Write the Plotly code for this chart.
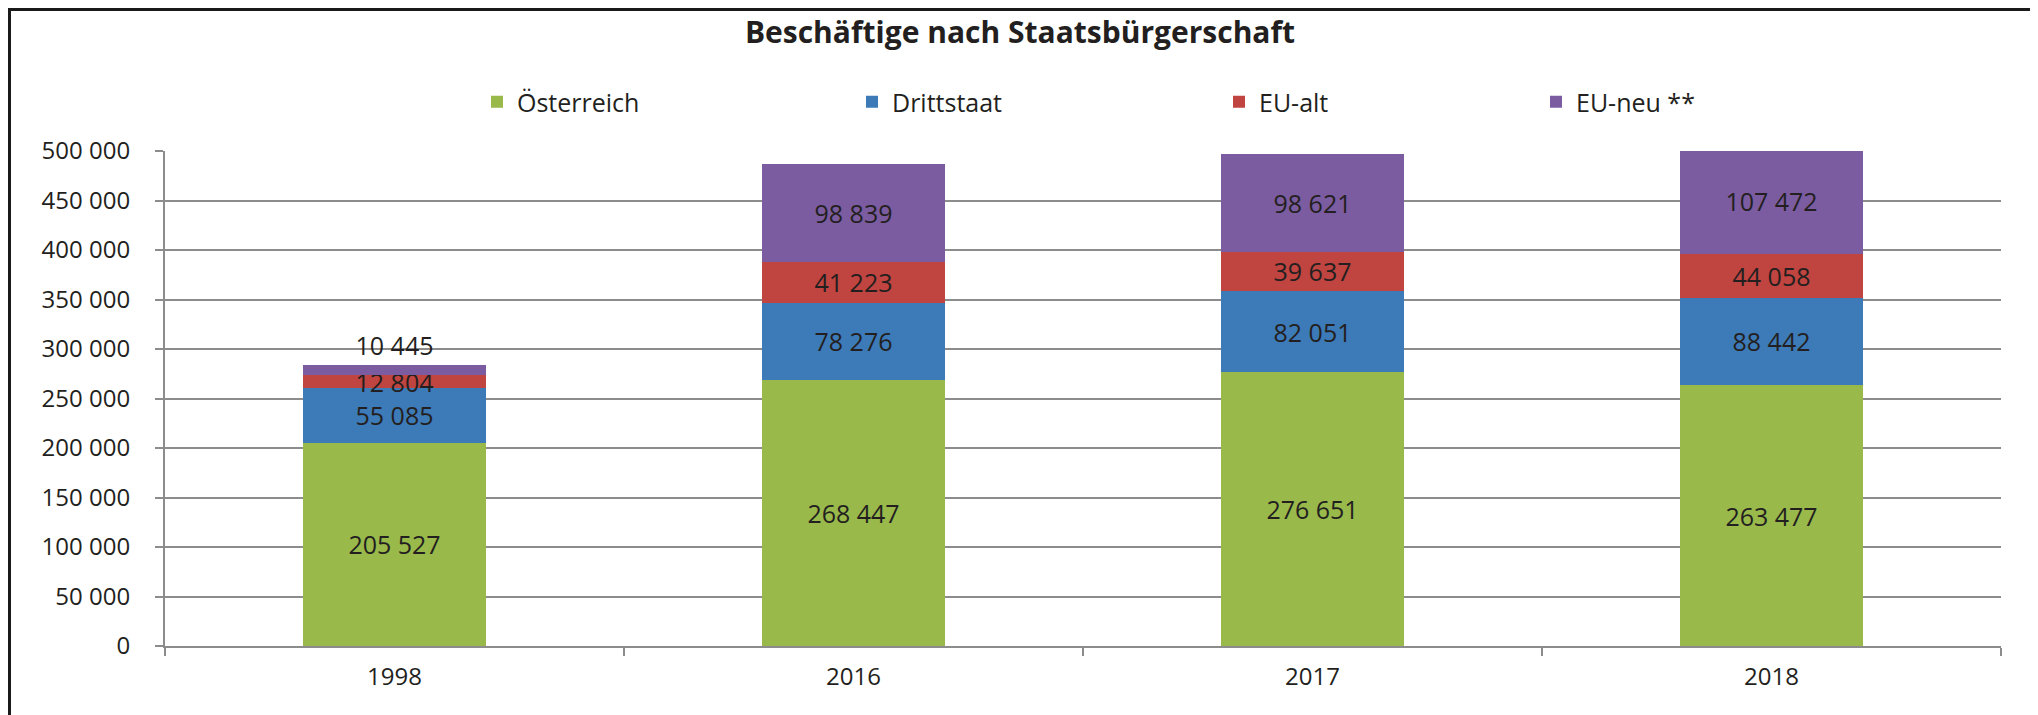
import plotly.graph_objects as go

years = ["1998", "2016", "2017", "2018"]
oesterreich = [205527, 268447, 276651, 263477]
drittstaat = [55085, 78276, 82051, 88442]
eu_alt = [12804, 41223, 39637, 44058]
eu_neu = [10445, 98839, 98621, 107472]

series_names = ["Österreich", "Drittstaat", "EU-alt", "EU-neu **"]
series_values = [oesterreich, drittstaat, eu_alt, eu_neu]
colors = ["#99B94B", "#3D7AB8", "#C0443F", "#7B5CA0"]
legend_widths = [330, 322, 272, 200]

NUMFONT = "Open Sans"
FONT = "Open Sans"
TXT = "#231f20"
GRID = "#8c8c8c"

# figure is placed by the page with an 8px body margin
W, H = 2030, 707
L, R, T, B = 157, 37, 143, 69
pw, ph = W - L - R, H - T - B

fig = go.Figure()
for name, vals, col, lw in zip(series_names, series_values, colors, legend_widths):
    pos = ["inside"] * len(vals)
    if name == "EU-neu **":
        pos[0] = "outside"
    fig.add_trace(go.Bar(
        x=years, y=vals, name=name,
        marker=dict(color=col, line=dict(width=0)),
        texttemplate="%{y:,d}", textposition=pos,
        constraintext="none", cliponaxis=True,
        insidetextanchor="middle",
        insidetextfont=dict(color=TXT, size=25, family=NUMFONT),
        outsidetextfont=dict(color=TXT, size=25, family=NUMFONT),
        legendwidth=lw,
    ))

def px_x(x):
    return (x - L) / pw

def px_y(y):
    return (H - B - y) / ph

fig.update_layout(
    width=W, height=H,
    margin=dict(l=L, r=R, t=T, b=B),
    barmode="stack", bargap=0.6,
    separators=", ",
    paper_bgcolor="white", plot_bgcolor="white",
    font=dict(family=FONT, size=25, color=TXT),
    title=dict(text="<b>Beschäftige nach Staatsbürgerschaft</b>",
               x=1012 / W, xref="container", xanchor="center",
               y=1 - 24 / H, yref="container", yanchor="middle",
               font=dict(family=FONT, size=30, color=TXT)),
    legend=dict(orientation="h", x=px_x(469), xanchor="left",
                y=px_y(94), yanchor="middle",
                font=dict(family=FONT, size=25, color=TXT),
                traceorder="normal", bgcolor="rgba(0,0,0,0)"),
    showlegend=True,
    xaxis=dict(type="category", showgrid=False, showline=True,
               linecolor=GRID, linewidth=2, ticks="outside",
               tickson="boundaries", ticklen=8, tickwidth=2,
               tickcolor=GRID, ticklabelstandoff=8,
               tickfont=dict(family=NUMFONT, size=24, color=TXT)),
    yaxis=dict(range=[0, 500000], dtick=50000, tickformat=",d",
               showgrid=True, gridcolor=GRID, gridwidth=2,
               showline=True, linecolor=GRID, linewidth=2,
               ticks="outside", ticklen=8, tickwidth=2, tickcolor=GRID,
               zeroline=False, ticklabelstandoff=20,
               tickfont=dict(family=NUMFONT, size=24, color=TXT)),
    shapes=[dict(type="rect", xref="paper", yref="paper",
                 x0=px_x(1.5), x1=px_x(2025), y0=px_y(730), y1=px_y(1.5),
                 line=dict(color="#1a1a1a", width=3), layer="above")],
)

fig.write_html("out.html")
